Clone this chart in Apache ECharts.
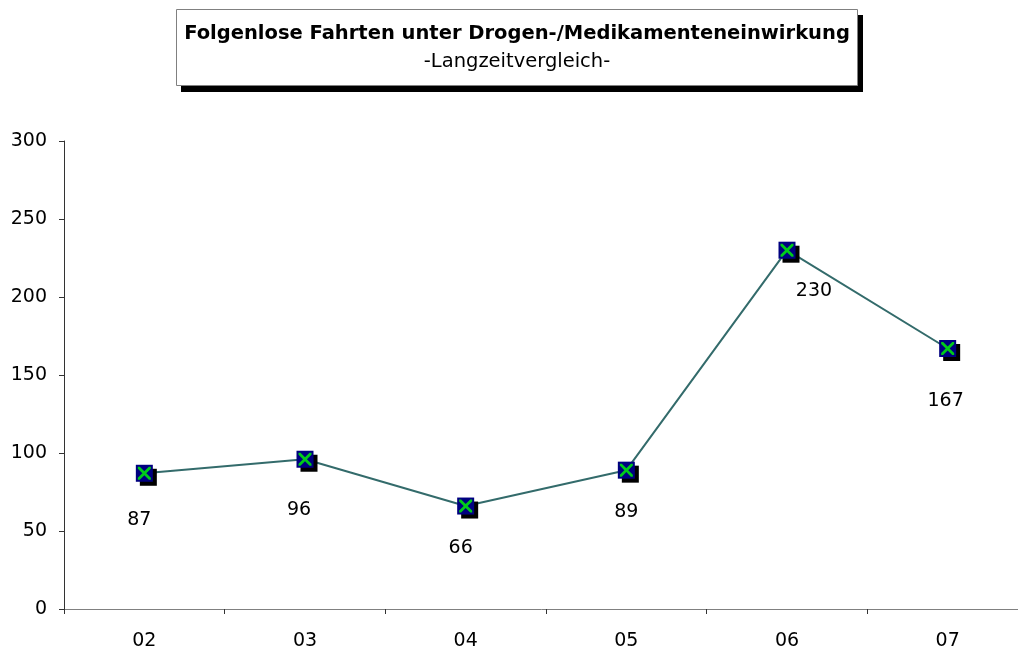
<!DOCTYPE html>
<html>
<head>
<meta charset="utf-8">
<title>Folgenlose Fahrten unter Drogen-/Medikamenteneinwirkung</title>
<script src="https://cdn.jsdelivr.net/npm/echarts@6/dist/echarts.min.js"></script>
<style>
  html, body { margin: 0; padding: 0; background: #fff; }
  #chart { width: 1018px; height: 650px; }
</style>
</head>
<body>
<div id="chart"></div>
<script>
// Jahre (Kurzform) und Anzahl der Fahrten
var years = ['02', '03', '04', '05', '06', '07'];
var fahrten = [87, 96, 66, 89, 230, 167];
var yTicks = { min: 0, max: 300, step: 50 };
// Versatz der Zahlen gegenueber dem Punkt (wie im Original, px)
var labelShift = [[-5, 47], [-6, 51], [-5, 42], [0, 42], [27, 41], [-2, 53]];

var font = 'DejaVu Sans';
var chart = echarts.init(document.getElementById('chart'));

var lineData = fahrten.map(function (v, i) {
  return { value: v, label: { offset: labelShift[i] } };
});

chart.setOption({
  animation: false,
  backgroundColor: '#fff',
  textStyle: { fontFamily: font },
  graphic: [{
    // Schatten des Titelkastens
    type: 'rect',
    shape: { x: 181, y: 15, width: 682, height: 77 },
    style: { fill: '#000' },
    z: 0
  }, {
    type: 'rect',
    shape: { x: 176.5, y: 9.5, width: 681, height: 76 },
    style: { fill: '#fff', stroke: '#808080', lineWidth: 1 },
    z: 1
  }],
  title: {
    text: 'Folgenlose Fahrten unter Drogen-/Medikamenteneinwirkung',
    subtext: '-Langzeitvergleich-',
    left: 517, top: 24, textAlign: 'center',
    itemGap: 8, padding: 0,
    textStyle: { fontFamily: font, fontSize: 19.5, fontWeight: 'bold', color: '#000' },
    subtextStyle: { fontFamily: font, fontSize: 19.5, color: '#000' },
    z: 10
  },
  grid: { left: 64, top: 141, bottom: 41, right: -10, outerBoundsMode: 'none' },
  xAxis: {
    type: 'category',
    data: years,
    boundaryGap: true,
    axisLine: { lineStyle: { color: '#808080', width: 1 } },
    axisTick: { show: true, length: 5, lineStyle: { color: '#333' } },
    axisLabel: { margin: 23, fontSize: 19, color: '#000', fontFamily: font },
    splitLine: { show: false }
  },
  yAxis: {
    type: 'value',
    min: yTicks.min, max: yTicks.max, interval: yTicks.step,
    axisLine: { show: true, lineStyle: { color: '#333', width: 1 } },
    axisTick: { show: true, length: 5, lineStyle: { color: '#333' } },
    axisLabel: { margin: 17, fontSize: 19, color: '#000', fontFamily: font },
    splitLine: { show: false }
  },
  series: [{
    name: 'Fahrten',
    type: 'line',
    data: lineData,
    symbol: 'rect',
    symbolSize: 17,
    lineStyle: { color: '#336b6b', width: 2 },
    itemStyle: {
      color: '#000080', borderWidth: 0, borderColor: '#000080',
      shadowColor: '#000', shadowOffsetX: 4, shadowOffsetY: 4, shadowBlur: 0
    },
    label: {
      show: true, position: 'inside',
      fontSize: 19, color: '#000', fontFamily: font
    },
    z: 2
  }, {
    name: 'kreuz',
    type: 'scatter',
    data: fahrten,
    symbol: 'path://M0,0L3,0L10,7L17,0L20,0L20,3L13,10L20,17L20,20L17,20L10,13L3,20L0,20L0,17L7,10L0,3Z',
    symbolSize: 13,
    itemStyle: { color: '#00ff00' },
    silent: true,
    z: 3
  }]
});
</script>
</body>
</html>
